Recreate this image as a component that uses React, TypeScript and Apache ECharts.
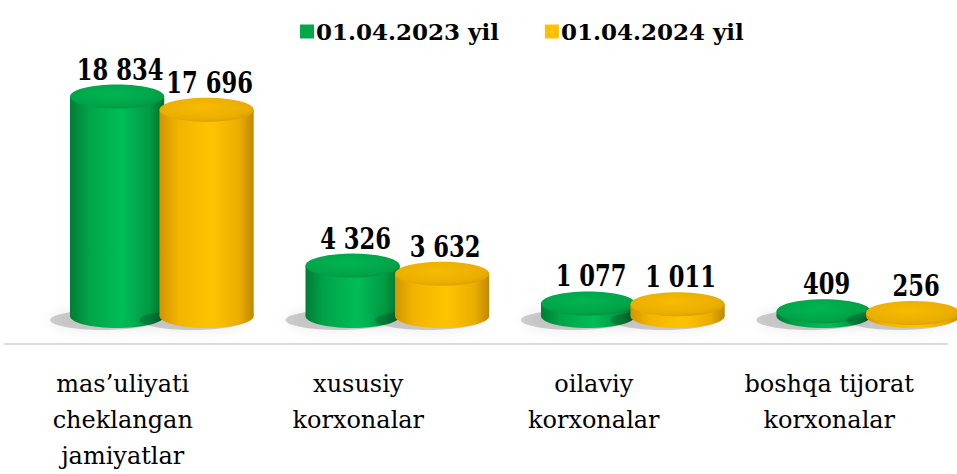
import React, { useEffect, useRef } from "react";
import * as echarts from "echarts";

const categories = [
  "mas’uliyati\ncheklangan\njamiyatlar",
  "xususiy\nkorxonalar",
  "oilaviy\nkorxonalar",
  "boshqa tijorat\nkorxonalar",
];
const seriesNames = ["01.04.2023 yil", "01.04.2024 yil"];
const values2023 = [18834, 4326, 1077, 409];
const values2024 = [17696, 3632, 1011, 256];

const FONT = "DejaVu Serif";

const palettes = [
  {
    legend: "#00a84a",
    body: [
      [0, "#007d35"],
      [0.2, "#00a448"],
      [0.55, "#00bd58"],
      [0.85, "#009a42"],
      [1, "#006e2d"],
    ],
    top: [
      [0, "#00b552"],
      [0.7, "#00a448"],
      [1, "#008a3b"],
    ],
  },
  {
    legend: "#ffc000",
    body: [
      [0, "#d29600"],
      [0.2, "#f2b400"],
      [0.55, "#ffc400"],
      [0.85, "#eaad00"],
      [1, "#c08800"],
    ],
    top: [
      [0, "#f7bb00"],
      [0.7, "#eaae00"],
      [1, "#cf9600"],
    ],
  },
];

function fmt(v: number) {
  return String(v).replace(/\B(?=(\d{3})+(?!\d))/g, " ");
}

function makeRenderItem(idx: number) {
  const pal = palettes[idx];
  return (params: any, api: any) => {
    const cat = api.value(0);
    const val = api.value(1);
    const top = api.coord([cat, val]);
    const base = api.coord([cat, 0]);
    const band = api.size([1, 0])[0];
    const w = band * 0.4;
    const shift = band * 0.166;
    const off = band * 0.19 * (idx === 0 ? -1 : 1);
    const cx = top[0] + shift + off;
    const ty = top[1];
    const by = base[1];
    const ry = 12;
    const rx = w / 2;
    const bodyGrad = new echarts.graphic.LinearGradient(
      0, 0, 1, 0,
      pal.body.map(([o, c]) => ({ offset: o as number, color: c as string }))
    );
    const topGrad = new echarts.graphic.RadialGradient(
      0.45, 0.4, 0.7,
      pal.top.map(([o, c]) => ({ offset: o as number, color: c as string }))
    );
    return {
      type: "group",
      children: [
        {
          type: "ellipse",
          shape: { cx: cx - 14, cy: by + 4, rx: rx + 6, ry: ry - 2 },
          style: {
            fill: "rgba(0,0,0,0.18)",
            shadowBlur: 14,
            shadowColor: "rgba(0,0,0,0.45)",
          },
          silent: true,
        },
        {
          type: "ellipse",
          shape: { cx, cy: by, rx, ry },
          style: { fill: bodyGrad },
        },
        {
          type: "rect",
          shape: { x: cx - rx, y: ty, width: w, height: Math.max(by - ty, 0) },
          style: { fill: bodyGrad },
        },
        {
          type: "ellipse",
          shape: { cx, cy: ty, rx, ry },
          style: { fill: topGrad },
        },
        {
          type: "text",
          x: cx + 3,
          y: ty - ry - 15,
          scaleX: 0.78,
          style: {
            x: 0,
            y: 0,
            text: fmt(val),
            fill: "#000",
            fontFamily: FONT,
            fontWeight: "bold",
            fontSize: 29,
            align: "center",
            verticalAlign: "middle",
          },
        },
      ],
    };
  };
}

export default function App() {
  const ref = useRef<HTMLDivElement>(null);
  useEffect(() => {
    document.body.style.margin = "0";
    if (!ref.current) return;
    const chart = echarts.init(ref.current, null, { renderer: "svg" });
    const data = [values2023, values2024];
    chart.setOption({
      animation: false,
      backgroundColor: "#ffffff",
      textStyle: { fontFamily: FONT },
      legend: {
        left: 295,
        top: 15,
        itemWidth: 14,
        itemHeight: 14,
        itemGap: 46,
        icon: "rect",
        textStyle: {
          fontFamily: FONT,
          fontWeight: "bold",
          fontSize: 23,
          color: "#000",
          padding: [0, 0, 0, -3],
        },
        data: seriesNames,
      },
      grid: [
        { left: 5, right: 10, top: 83, bottom: 127 },
        { left: 5, right: 10, top: 83, bottom: 158 },
      ],
      xAxis: [
        {
          type: "category",
          gridIndex: 0,
          data: categories,
          axisLine: { lineStyle: { color: "#d9d9d9", width: 2 } },
          axisTick: { show: false },
          axisLabel: {
            interval: 0,
            margin: 22,
            fontFamily: FONT,
            fontSize: 24,
            lineHeight: 36,
            color: "#000",
          },
        },
        {
          type: "category",
          gridIndex: 1,
          data: categories,
          show: false,
        },
      ],
      yAxis: [
        { type: "value", gridIndex: 0, show: false, min: 0, max: 20000 },
        { type: "value", gridIndex: 1, show: false, min: 0, max: 20000 },
      ],
      series: seriesNames.map((name, i) => ({
        name,
        type: "custom",
        xAxisIndex: 1,
        yAxisIndex: 1,
        itemStyle: { color: palettes[i].legend },
        renderItem: makeRenderItem(i),
        data: data[i].map((v, j) => [j, v]),
        z: 2 + i,
      })),
    });
    return () => chart.dispose();
  }, []);
  return <div ref={ref} style={{ width: 957, height: 474 }} />;
}
